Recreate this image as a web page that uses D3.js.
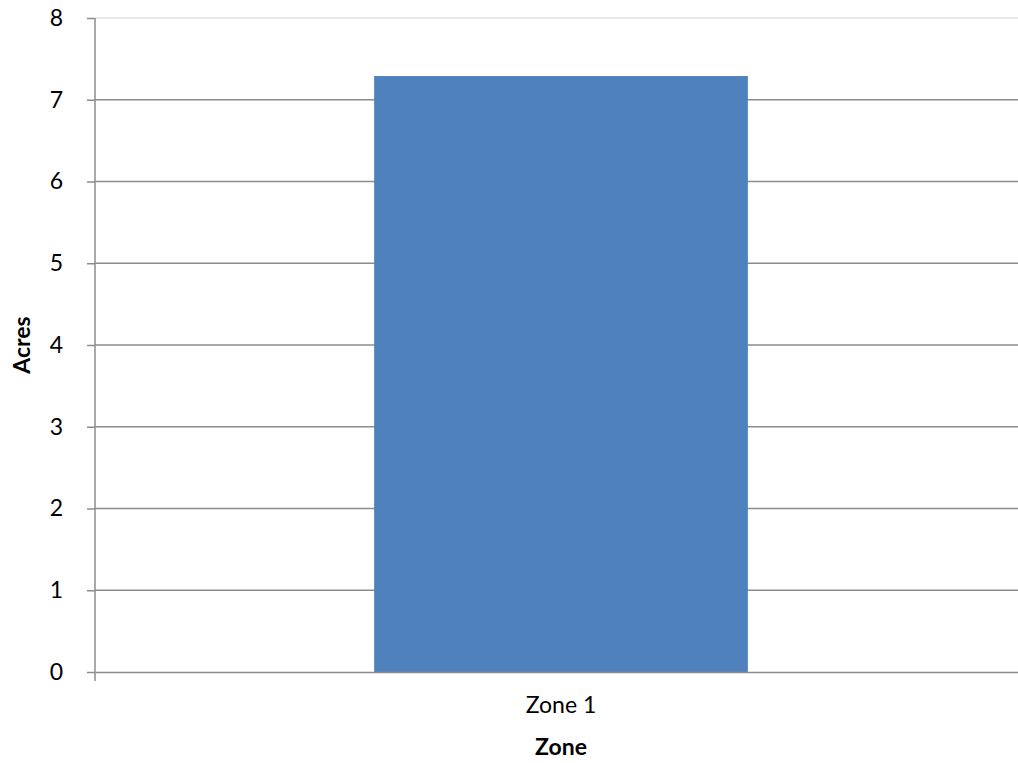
<!DOCTYPE html>
<html>
<head>
<meta charset="utf-8">
<script src="https://cdn.jsdelivr.net/npm/d3@7"></script>
<style>
  body { margin: 0; background: #fff; overflow: hidden; }
  text { font-family: Lato, "Open Sans", sans-serif; fill: #000; }
</style>
</head>
<body>
<div class="canvas"></div>
<script>
const categories = ['Zone 1']
const acres = [7.29]
const yTicks = [0, 1, 2, 3, 4, 5, 6, 7, 8]

const width = 1018
const height = 763
const margin = {top: 18, right: -9, bottom: 91, left: 95}
const graphHeight = height - margin.top - margin.bottom
const graphWidth = width - margin.left - margin.right

const svg = d3.select('.canvas')
  .append('svg')
  .attr('width', width)
  .attr('height', height)
  .style('display', 'block')

const graph = svg.append('g')
  .attr('transform', `translate(${margin.left}, ${margin.top})`)

const x = d3.scaleBand()
  .domain(categories)
  .range([0, graphWidth])
  .paddingInner(0.599)
  .paddingOuter(0.2995)

const y = d3.scaleLinear()
  .domain([0, 8])
  .range([graphHeight, 0])

// gridlines
graph.append('g')
  .selectAll('line')
  .data(yTicks.filter(t => t > 0))
  .join('line')
  .attr('x1', 0)
  .attr('x2', graphWidth)
  .attr('y1', d => y(d))
  .attr('y2', d => y(d))
  .attr('stroke', d => d === 8 ? '#e3e3e3' : '#8c8c8c')
  .attr('stroke-width', 1.5)

// bars
graph.selectAll('rect')
  .data(acres)
  .join('rect')
  .attr('x', (d, i) => x(categories[i]))
  .attr('width', x.bandwidth())
  .attr('y', d => y(d))
  .attr('height', d => graphHeight - y(d))
  .attr('fill', '#4f81bd')

// y axis
const yAxis = graph.append('g')
  .call(d3.axisLeft(y).tickValues(yTicks).tickSize(8).tickPadding(24).tickFormat(d3.format('d')))
yAxis.select('.domain').remove()
yAxis.selectAll('.tick line').attr('stroke', '#8c8c8c').attr('stroke-width', 1.5)
yAxis.selectAll('text').style('font-size', '23px').attr('fill', '#000')
graph.append('line')
  .attr('x1', 0).attr('x2', 0)
  .attr('y1', 0).attr('y2', graphHeight + 9)
  .attr('stroke', '#8c8c8c').attr('stroke-width', 1.5)

// x axis
const xAxis = graph.append('g')
  .attr('transform', `translate(0, ${graphHeight})`)
  .call(d3.axisBottom(x).tickSize(0).tickPadding(25))
xAxis.select('.domain').attr('stroke', '#8c8c8c').attr('stroke-width', 1.5)
xAxis.selectAll('text').style('font-size', '23px').attr('fill', '#000')

// axis titles
svg.append('text')
  .attr('x', margin.left + x('Zone 1') + x.bandwidth() / 2)
  .attr('y', 755)
  .attr('text-anchor', 'middle')
  .style('font-size', '23px')
  .style('font-weight', 'bold')
  .text('Zone')

svg.append('text')
  .attr('transform', `translate(30, ${margin.top + graphHeight / 2}) rotate(-90)`)
  .attr('text-anchor', 'middle')
  .style('font-size', '23px')
  .style('font-weight', 'bold')
  .text('Acres')
</script>
</body>
</html>
